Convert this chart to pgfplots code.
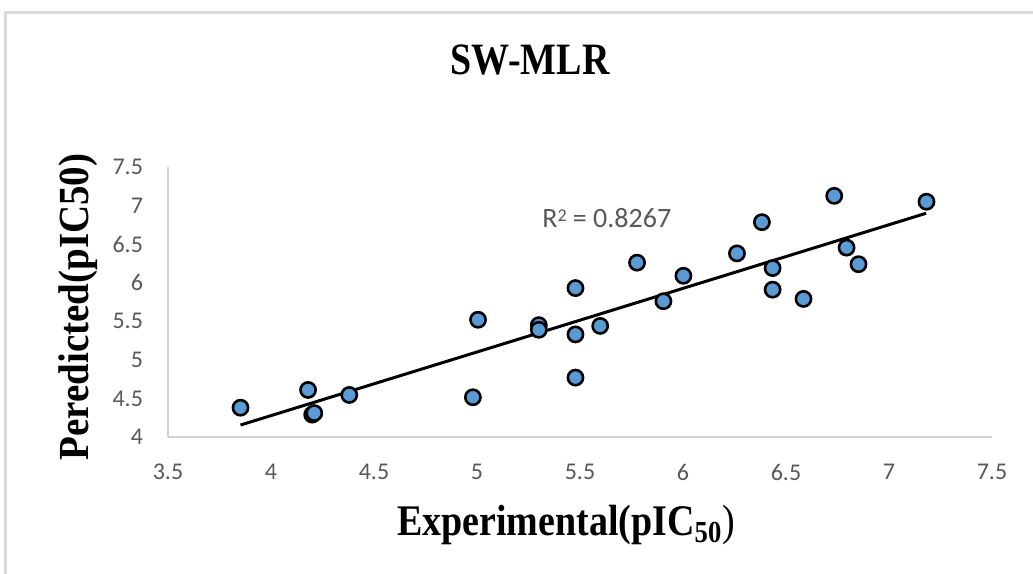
\documentclass[border=0pt]{standalone}
\usepackage{pgfplots}
\pgfplotsset{compat=1.18}
\usepackage{graphicx}
\usepackage{fontspec}
\setmainfont{Liberation Serif}
\newfontfamily\calibri{Carlito}
\definecolor{ptblue}{HTML}{5B9BD5}
\definecolor{txtgray}{HTML}{595959}
\definecolor{framegray}{HTML}{D9D9D9}
\definecolor{axgray}{HTML}{D0D0D0}
\begin{document}
\begin{tikzpicture}
\useasboundingbox (0,0) rectangle (516.5pt,286.5pt);
\fill[white] (0,0) rectangle (516.5pt,286.5pt);
% chart frame
\draw[framegray, line width=1.5pt] (2.75pt,-5pt) -- (2.75pt,280.25pt) -- (530pt,280.25pt);
\begin{axis}[
  at={(84pt,68pt)}, anchor=origin,
  scale only axis, width=412pt, height=135pt,
  xmin=3.5, xmax=7.5, ymin=4, ymax=7.5,
  xtick={3.5,4,4.5,5,5.5,6,6.5,7,7.5},
  ytick={4,4.5,5,5.5,6,6.5,7,7.5},
  major tick length=0pt,
  axis x line*=bottom, axis y line*=left,
  axis line style={draw=axgray, line width=0.6pt, -},
  tick label style={font=\calibri\fontsize{12}{12}\selectfont, text=txtgray},
  /pgf/number format/assume math mode=true,
  xticklabel style={yshift=-10pt},
  yticklabel style={xshift=-9pt},
  clip=false,
]
\addplot[black, line width=1.5pt] coordinates {(3.852,4.155) (7.18,6.90)};
\addplot[only marks, mark=*, mark size=3.8pt, mark options={fill=ptblue, draw=black, line width=1.3pt}] coordinates {
(3.852,4.38) (4.18,4.61) (4.20,4.29) (4.21,4.31) (4.38,4.545)
(4.98,4.515) (5.005,5.52) (5.30,5.45) (5.30,5.39) (5.478,5.93)
(5.478,5.33) (5.478,4.77) (5.598,5.44) (5.777,6.26) (5.905,5.76)
(6.002,6.09) (6.262,6.38) (6.383,6.785) (6.435,6.19) (6.435,5.91)
(6.585,5.79) (6.734,7.126) (6.794,6.455) (6.852,6.24) (7.182,7.05)};
\node[text=txtgray, font=\calibri\fontsize{14}{14}\selectfont] at (axis cs:5.63,6.84) {R\raisebox{0.45ex}{\fontsize{9}{9}\selectfont 2} = 0.8267};
\end{axis}
\node at (265pt,256.5pt) {\scalebox{1}[1.18]{\fontsize{19}{19}\selectfont\bfseries SW-MLR}};
\node at (283pt,24pt) {\scalebox{1}[1.15]{\fontsize{19}{19}\selectfont\bfseries Experimental(pIC$_{\mathbf{50}}$\mdseries)}};
\node[rotate=90] at (39pt,133pt) {\scalebox{1}[1.1]{\fontsize{19.5}{19.5}\selectfont\bfseries Peredicted(pIC50)}};
\end{tikzpicture}
\end{document}
